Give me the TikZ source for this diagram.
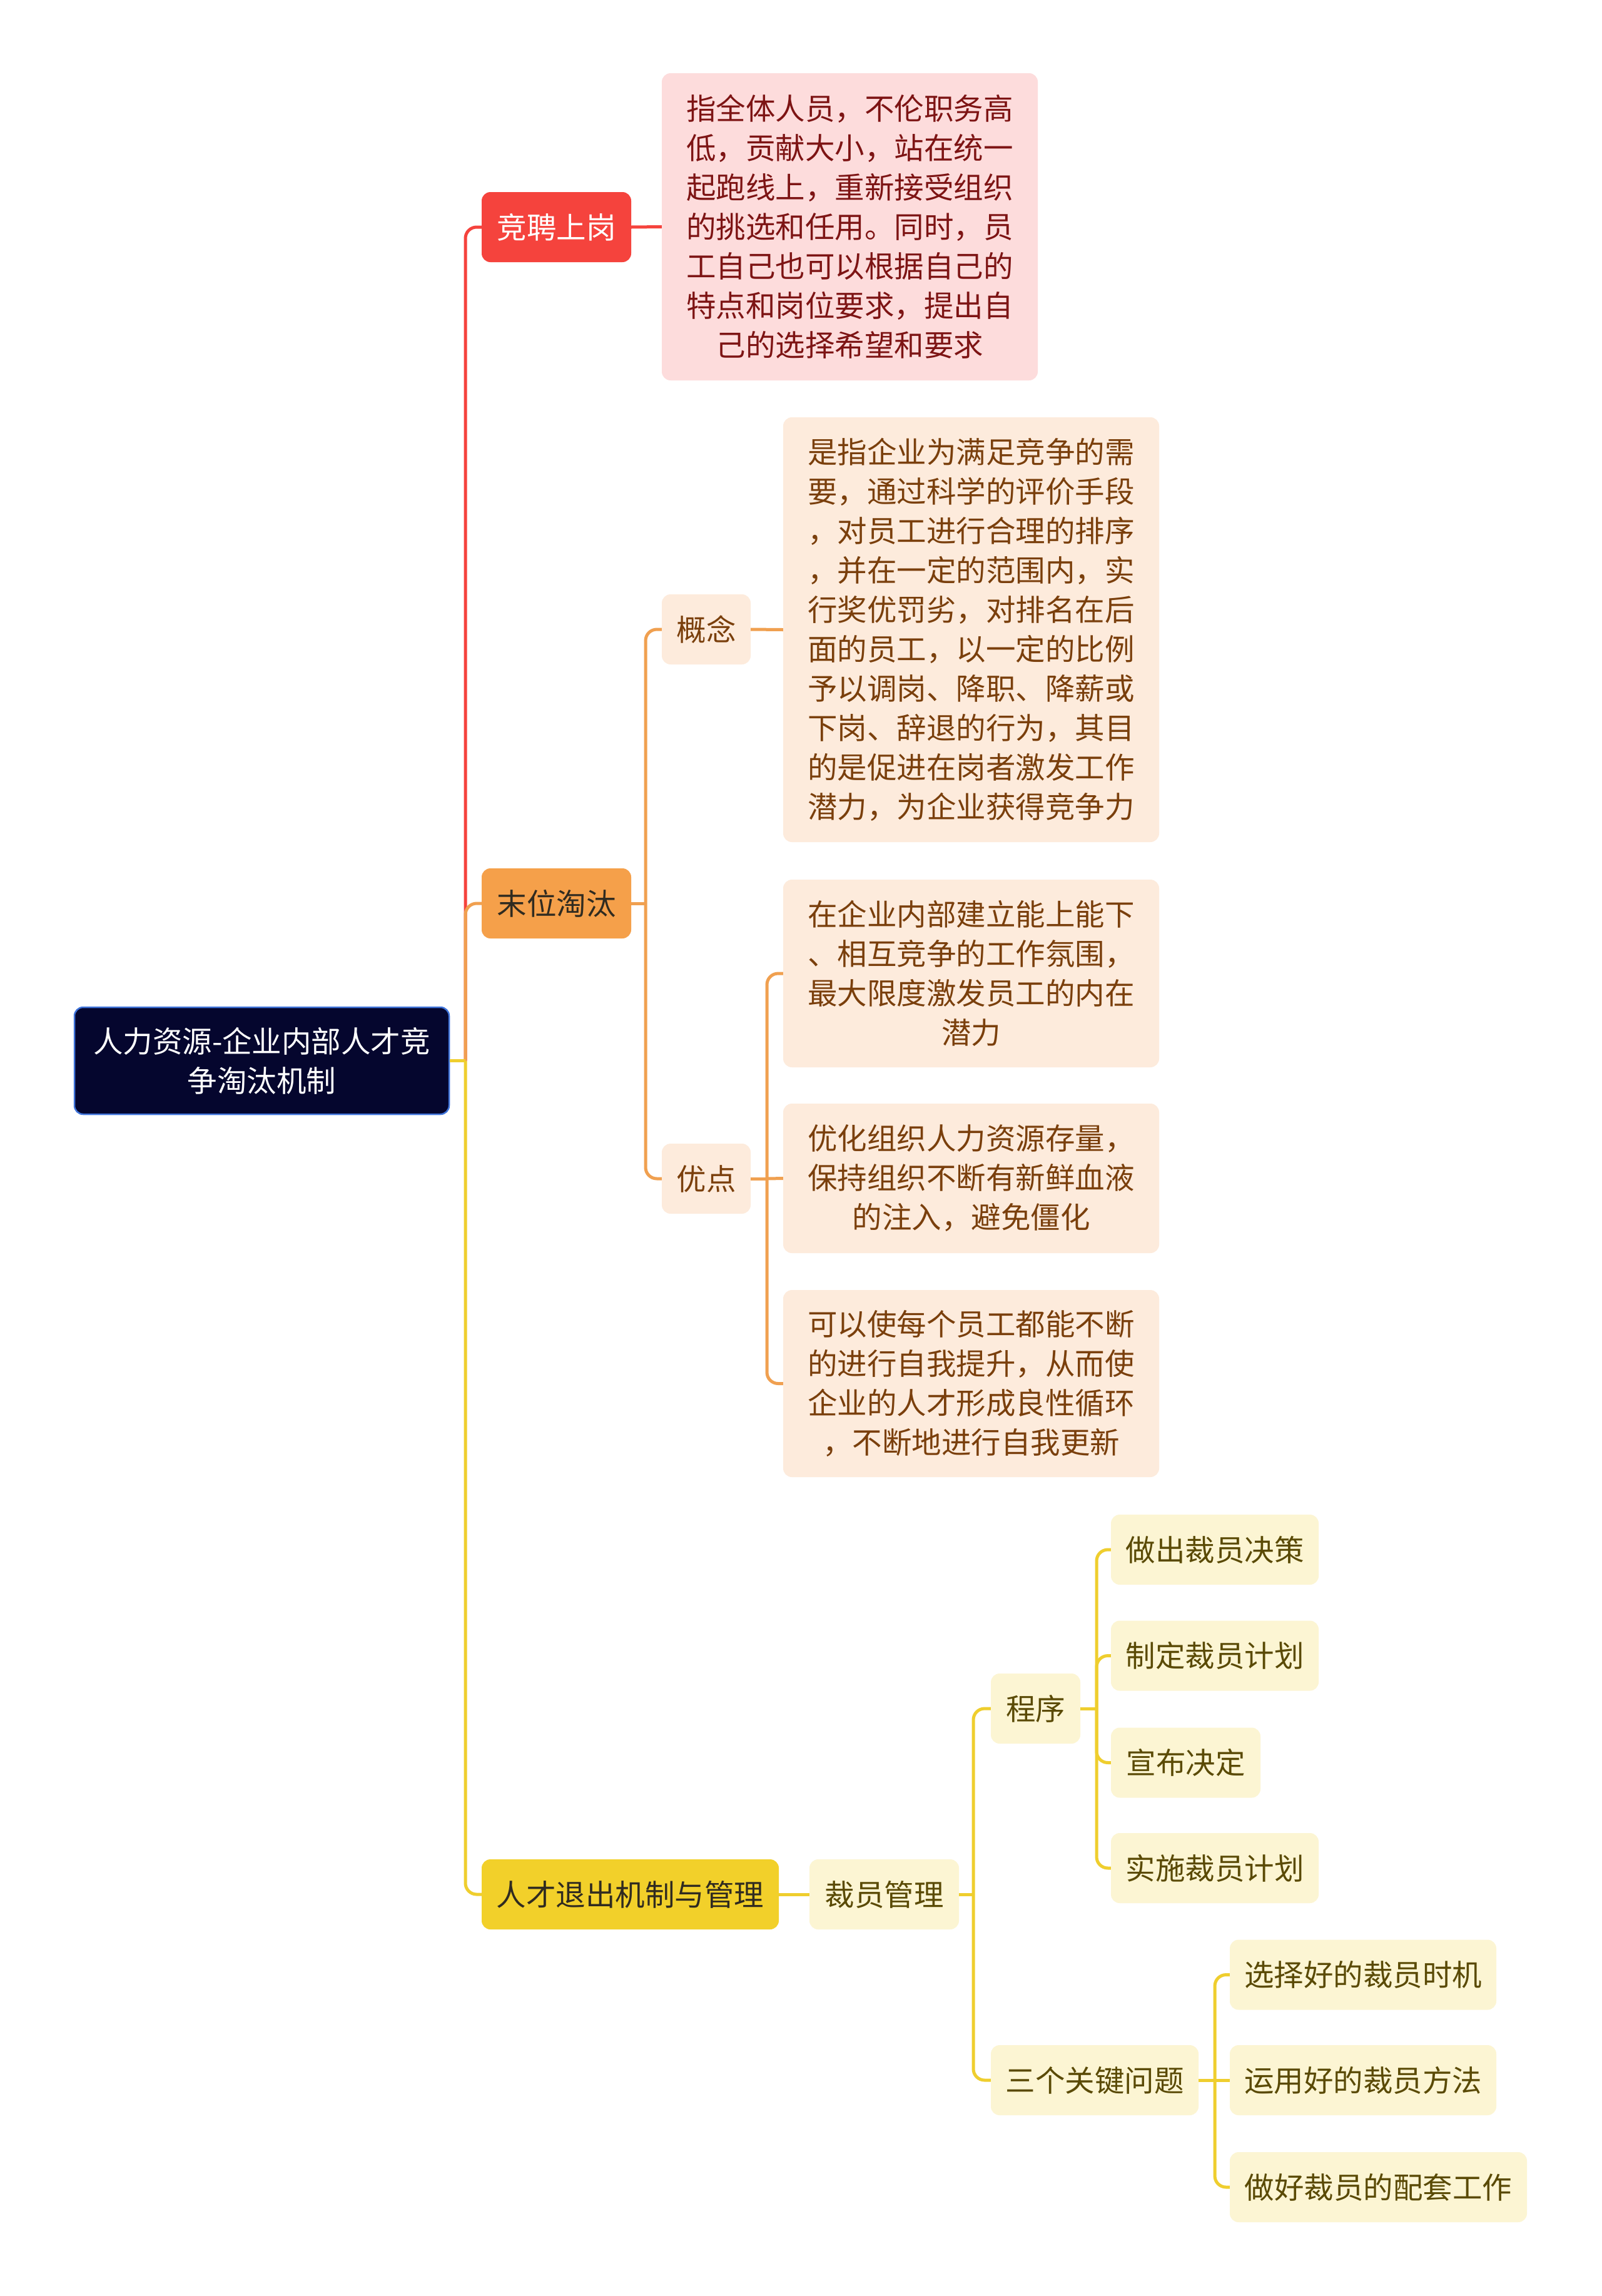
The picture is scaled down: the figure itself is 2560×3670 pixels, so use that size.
\documentclass[tikz,border=0pt]{standalone}
\usepackage{fontspec}
\setmainfont{Noto Sans CJK SC}
\definecolor{rootfill}{HTML}{05062E}
\definecolor{rootdraw}{HTML}{3F74DB}
\definecolor{redc}{HTML}{F5433D}
\definecolor{pinkfill}{HTML}{FDDCDC}
\definecolor{pinktext}{HTML}{7D1414}
\definecolor{orangec}{HTML}{F5A04A}
\definecolor{orangeline}{HTML}{F0A050}
\definecolor{peachfill}{HTML}{FDEBDC}
\definecolor{peachtext}{HTML}{7A3F0C}
\definecolor{yellowc}{HTML}{F2D02A}
\definecolor{yellowline}{HTML}{EFCE2E}
\definecolor{lyfill}{HTML}{FCF5D3}
\definecolor{lytext}{HTML}{5A4A05}
\definecolor{darktext}{HTML}{302B20}
\tikzset{
  box/.style={rounded corners=14pt, inner sep=0pt, align=center, font=\fontsize{47.5}{63}\selectfont},
  rootbox/.style={box, fill=rootfill, draw=rootdraw, line width=2.5pt, text=white},
  redbox/.style={box, fill=redc, text=white},
  pinkbox/.style={box, fill=pinkfill, text=pinktext},
  orangebox/.style={box, fill=orangec, text=darktext},
  peachbox/.style={box, fill=peachfill, text=peachtext},
  yellowbox/.style={box, fill=yellowc, text=darktext},
  lybox/.style={box, fill=lyfill, text=lytext},
  redln/.style={draw=redc, line width=5pt},
  orln/.style={draw=orangeline, line width=5pt},
  yeln/.style={draw=yellowline, line width=5pt},
  rc/.style={rounded corners=18pt}
}
\begin{document}
\begin{tikzpicture}[x=1pt,y=-1pt]
\useasboundingbox (0,0) rectangle (2560,3670);
\fill[white] (0,0) rectangle (2560,3670);

% nodes
\node[rootbox, minimum width=599pt, minimum height=171pt] (root) at (418.5,1695.5) {人力资源-企业内部人才竞\\争淘汰机制};
\node[redbox, minimum width=239pt, minimum height=112pt] (jp) at (889.5,363) {竞聘上岗};
\node[pinkbox, minimum width=601pt, minimum height=491pt] (jpt) at (1358.5,362.5) {指全体人员，不伦职务高\\低，贡献大小，站在统一\\起跑线上，重新接受组织\\的挑选和任用。同时，员\\工自己也可以根据自己的\\特点和岗位要求，提出自\\己的选择希望和要求};
\node[orangebox, minimum width=239pt, minimum height=112pt] (mw) at (889.5,1444) {末位淘汰};
\node[peachbox, minimum width=142pt, minimum height=112pt] (gn) at (1129,1006) {概念};
\node[peachbox, minimum width=601pt, minimum height=679pt] (gnt) at (1552.5,1006.5) {是指企业为满足竞争的需\\要，通过科学的评价手段\\，对员工进行合理的排序\\，并在一定的范围内，实\\行奖优罚劣，对排名在后\\面的员工，以一定的比例\\予以调岗、降职、降薪或\\下岗、辞退的行为，其目\\的是促进在岗者激发工作\\潜力，为企业获得竞争力};
\node[peachbox, minimum width=142pt, minimum height=112pt] (yd) at (1129,1884) {优点};
\node[peachbox, minimum width=601pt, minimum height=300pt] (b1) at (1552.5,1556) {在企业内部建立能上能下\\、相互竞争的工作氛围，\\最大限度激发员工的内在\\潜力};
\node[peachbox, minimum width=601pt, minimum height=239pt] (b2) at (1552.5,1883.5) {优化组织人力资源存量，\\保持组织不断有新鲜血液\\的注入，避免僵化};
\node[peachbox, minimum width=601pt, minimum height=299pt] (b3) at (1552.5,2211.5) {可以使每个员工都能不断\\的进行自我提升，从而使\\企业的人才形成良性循环\\，不断地进行自我更新};
\node[yellowbox, minimum width=475pt, minimum height=112pt] (rc) at (1007.5,3028) {人才退出机制与管理};
\node[lybox, minimum width=239pt, minimum height=112pt] (cy) at (1413.5,3028) {裁员管理};
\node[lybox, minimum width=143pt, minimum height=112pt] (cx) at (1655.5,2731) {程序};
\node[lybox, minimum width=332pt, minimum height=112pt] (sg) at (1750,3325) {三个关键问题};
\node[lybox, minimum width=332pt, minimum height=112pt] (p1) at (1942,2477) {做出裁员决策};
\node[lybox, minimum width=332pt, minimum height=112pt] (p2) at (1942,2646.5) {制定裁员计划};
\node[lybox, minimum width=239pt, minimum height=112pt] (p3) at (1895.5,2817.5) {宣布决定};
\node[lybox, minimum width=332pt, minimum height=112pt] (p4) at (1942,2986) {实施裁员计划};
\node[lybox, minimum width=426pt, minimum height=112pt] (q1) at (2179,3156.5) {选择好的裁员时机};
\node[lybox, minimum width=426pt, minimum height=112pt] (q2) at (2179,3325) {运用好的裁员方法};
\node[lybox, minimum width=475pt, minimum height=112pt] (q3) at (2203.5,3496) {做好裁员的配套工作};

% junction coordinates
\coordinate (t1) at (744,1695.5);
\coordinate (t2) at (1032,1444);
\coordinate (t3) at (1226,1884);
\coordinate (t4) at (1556,3028);
\coordinate (t5) at (1753,2731);
\coordinate (t6) at (1942,3325);

% level 1
\draw[redln, rc] (t1) |- (jp.west);
\draw[redln] (jp.east) -- (jpt.west);
\draw[orln, rc] (t1) |- (mw.west);
\draw[yeln, rc] (t1) |- (rc.west);
\draw[yeln] (root.east) -- (t1);

% 末位淘汰
\draw[orln] (mw.east) -- (t2);
\draw[orln, rc] (t2) |- (gn.west);
\draw[orln, rc] (t2) |- (yd.west);
\draw[orln] (gn.east) -- (gnt.west);
\draw[orln] (yd.east) -- (t3);
\draw[orln, rc] (t3) |- (b1.west);
\draw[orln] (t3) -- (b2.west);
\draw[orln, rc] (t3) |- (b3.west);

% 人才退出
\draw[yeln] (rc.east) -- (cy.west);
\draw[yeln] (cy.east) -- (t4);
\draw[yeln, rc] (t4) |- (cx.west);
\draw[yeln, rc] (t4) |- (sg.west);
\draw[yeln] (cx.east) -- (t5);
\draw[yeln, rc] (t5) |- (p1.west);
\draw[yeln, rc] (t5) |- (p2.west);
\draw[yeln, rc] (t5) |- (p3.west);
\draw[yeln, rc] (t5) |- (p4.west);
\draw[yeln] (sg.east) -- (t6);
\draw[yeln, rc] (t6) |- (q1.west);
\draw[yeln] (t6) -- (q2.west);
\draw[yeln, rc] (t6) |- (q3.west);
\end{tikzpicture}
\end{document}
